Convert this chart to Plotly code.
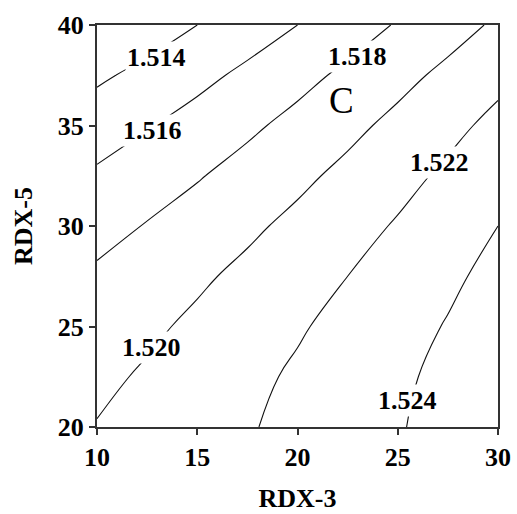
import plotly.graph_objects as go

# RDX-3 content (x) and RDX-5 content (y) grid nodes
rdx3 = [10, 12.5, 15, 17.5, 20, 22.5, 25, 27.5, 30]
rdx5 = [20, 22.5, 25, 27.5, 30, 32.5, 35, 37.5, 40]

# Response values on the grid, one row per RDX-5 level (bottom to top)
response = [
    [1.52008, 1.52062, 1.52122, 1.52185, 1.52250, 1.52318, 1.52388, 1.52456, 1.52526],
    [1.51959, 1.52023, 1.52089, 1.52157, 1.52226, 1.52297, 1.52370, 1.52443, 1.52518],
    [1.51895, 1.51966, 1.52036, 1.52108, 1.52181, 1.52256, 1.52333, 1.52411, 1.52492],
    [1.51829, 1.51898, 1.51970, 1.52044, 1.52120, 1.52200, 1.52282, 1.52366, 1.52452],
    [1.51736, 1.51810, 1.51886, 1.51965, 1.52046, 1.52130, 1.52217, 1.52307, 1.52400],
    [1.51628, 1.51706, 1.51786, 1.51871, 1.51958, 1.52047, 1.52140, 1.52235, 1.52332],
    [1.51505, 1.51588, 1.51674, 1.51764, 1.51856, 1.51951, 1.52049, 1.52149, 1.52250],
    [1.51367, 1.51455, 1.51546, 1.51642, 1.51740, 1.51840, 1.51942, 1.52045, 1.52150],
    [1.51202, 1.51300, 1.51400, 1.51500, 1.51600, 1.51708, 1.51815, 1.51922, 1.52030],
]

# Contour levels and where each level's label sits (data coordinates)
levels = [1.514, 1.516, 1.518, 1.520, 1.522, 1.524]
label_x = [12.99, 12.77, 22.97, 12.74, 27.06, 25.51]
label_y = [38.36, 34.73, 38.41, 23.98, 33.18, 21.34]

panel_tag = "C"

serif = "Liberation Serif"
text_size = 26

fig = go.Figure()
fig.add_trace(go.Contour(
    x=rdx3, y=rdx5, z=response,
    contours=dict(start=levels[0], end=levels[-1], size=0.002, coloring="lines"),
    colorscale=[[0, "#111111"], [1, "#111111"]],
    line=dict(width=1.1, smoothing=1.3),
    showscale=False,
    hoverinfo="skip",
))

for lv, lx, ly in zip(levels, label_x, label_y):
    fig.add_annotation(
        x=lx, y=ly, xref="x", yref="y",
        text=f"{lv:.3f}", showarrow=False,
        font=dict(family=serif, size=text_size, color="black", weight="bold"),
        bgcolor="white", borderpad=1,
    )

fig.add_annotation(
    x=22.17, y=36.22, xref="x", yref="y", text=panel_tag, showarrow=False,
    font=dict(family=serif, size=37, color="black"),
)

axis_common = dict(
    showgrid=False, zeroline=False, automargin=False,
    showline=True, linecolor="#333333", linewidth=2, mirror=True,
    ticks="outside", ticklen=6, tickwidth=2, tickcolor="#333333",
    tickfont=dict(family=serif, size=text_size, color="black", weight="bold"),
    dtick=5,
)

fig.update_layout(
    width=517, height=514,
    margin=dict(l=97, r=19, t=25, b=87),
    paper_bgcolor="white", plot_bgcolor="white",
    showlegend=False,
    xaxis=dict(range=[10, 30],
               title=dict(text="RDX-3", standoff=18,
                          font=dict(family=serif, size=text_size, color="black", weight="bold")),
               **axis_common),
    yaxis=dict(range=[20, 40],
               title=dict(text="RDX-5", standoff=18,
                          font=dict(family=serif, size=text_size, color="black", weight="bold")),
               **axis_common),
)

fig.write_html("out.html")
